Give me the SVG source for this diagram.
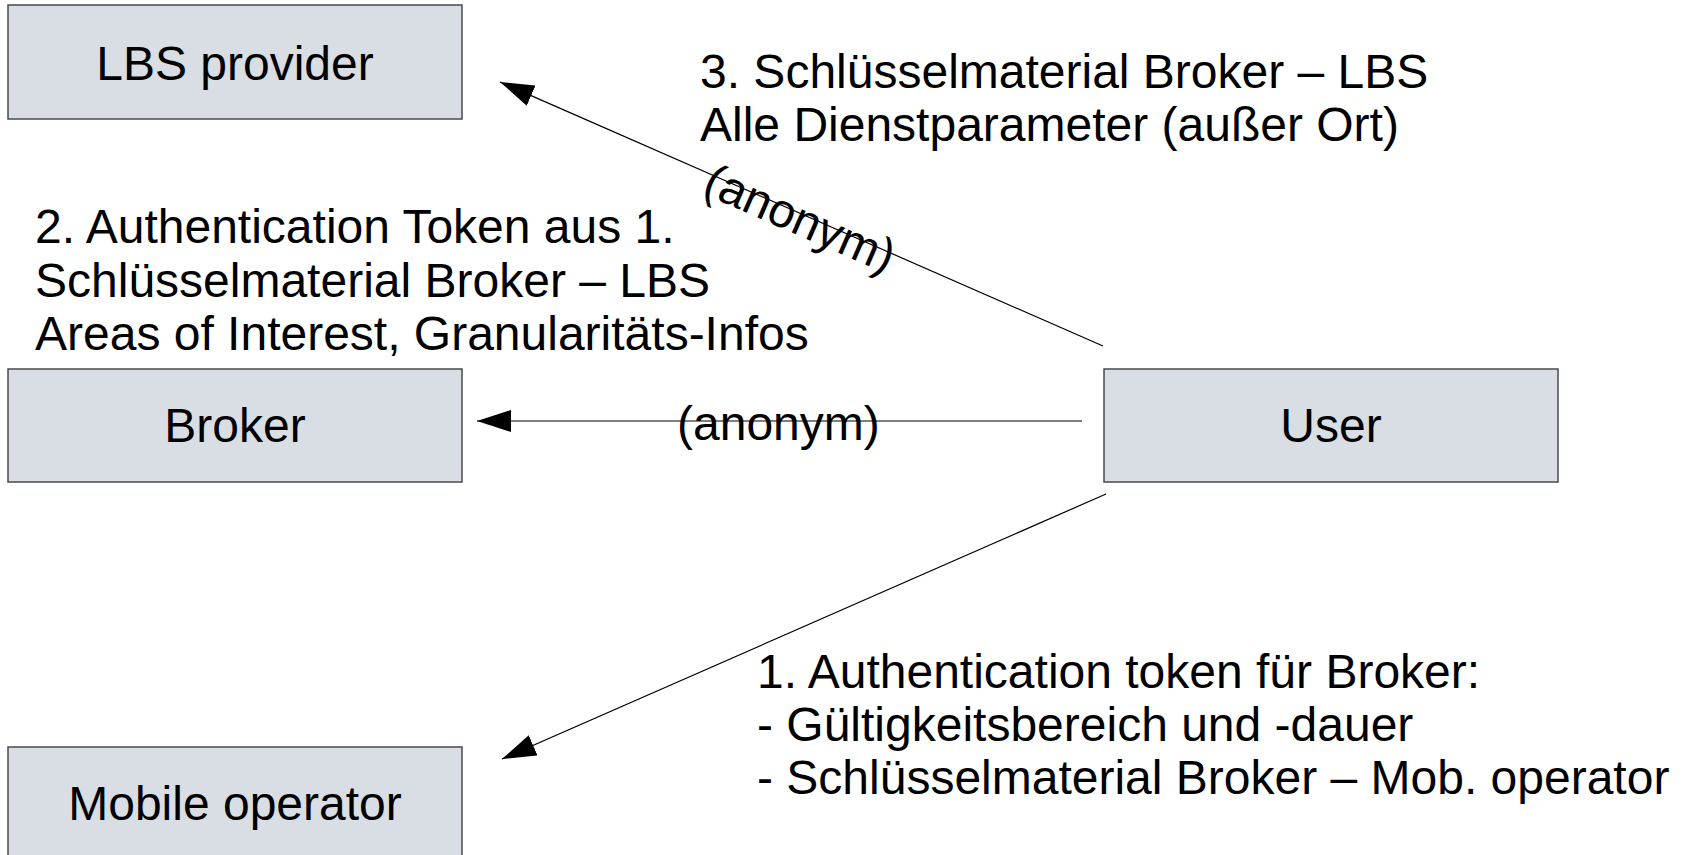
<svg xmlns="http://www.w3.org/2000/svg" width="1683" height="855" viewBox="0 0 1683 855">
<style>
.box{fill:#d9dee4;stroke:#4a4a4a;stroke-width:1.5}
.t{font-family:"Liberation Sans",Arial,sans-serif;font-size:48px;fill:#000}
.c{text-anchor:middle}
.ln{stroke:#000;stroke-width:1.2;fill:none;marker-end:url(#ah)}
</style>
<defs>
<marker id="ah" markerUnits="userSpaceOnUse" viewBox="0 0 34 22" refX="34" refY="11" markerWidth="34" markerHeight="22" orient="auto">
<path d="M0,0 L34,11 L0,22 z" fill="#000"/>
</marker>
</defs>
<rect width="1683" height="855" fill="#fff"/>
<g id="lbs"><rect class="box" x="8" y="5" width="454" height="114"/><text class="t c" x="235" y="80">LBS provider</text></g>
<g id="broker"><rect class="box" x="8" y="369" width="454" height="113"/><text class="t c" x="235" y="442">Broker</text></g>
<g id="user"><rect class="box" x="1104" y="369" width="454" height="113"/><text class="t c" x="1331" y="442">User</text></g>
<g id="mobile"><rect class="box" x="8" y="747" width="454" height="114"/><text class="t c" x="235" y="820">Mobile operator</text></g>
<g id="connectors">
<line class="ln" x1="1103" y1="346" x2="500" y2="82"/>
<line class="ln" x1="1082" y1="421" x2="477" y2="421"/>
<line class="ln" x1="1106" y1="494" x2="502" y2="759"/>
<text class="t c" transform="translate(802,214) rotate(23.6)" x="0" y="21">(anonym)</text>
<text class="t" x="677" y="440">(anonym)</text>
</g>
<g id="labels">
<text class="t" x="700" y="88">3. Schlüsselmaterial Broker – LBS</text>
<text class="t" x="700" y="141">Alle Dienstparameter (außer Ort)</text>
<text class="t" x="35" y="243">2. Authentication Token aus 1.</text>
<text class="t" x="35" y="297">Schlüsselmaterial Broker – LBS</text>
<text class="t" x="35" y="350">Areas of Interest, Granularitäts-Infos</text>
<text class="t" x="757" y="688">1. Authentication token für Broker:</text>
<text class="t" x="757" y="741">- Gültigkeitsbereich und -dauer</text>
<text class="t" x="757" y="794">- Schlüsselmaterial Broker – Mob. operator</text>
</g>
</svg>
